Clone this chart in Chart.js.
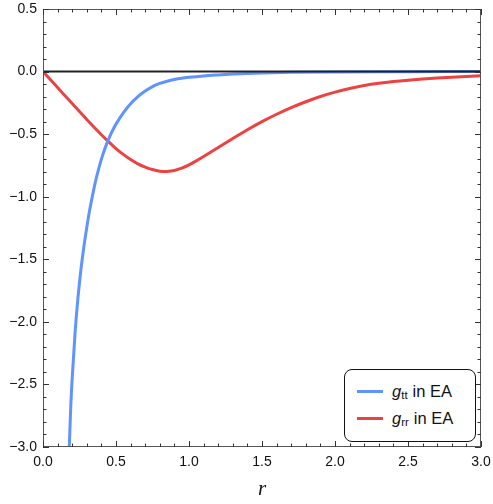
<!DOCTYPE html>
<html>
<head>
<meta charset="utf-8">
<script src="https://cdn.jsdelivr.net/npm/chart.js@4.4.0/dist/chart.umd.min.js"></script>
<style>
  html, body { margin: 0; padding: 0; background: #fff; }
  #wrap { position: relative; width: 493px; height: 504px; }
  #legend {
    position: absolute; left: 344px; top: 369px; width: 130px; height: 71px;
    border: 1.5px solid #111; border-radius: 8px; background: #fff;
    font-family: "Liberation Sans", Arial, sans-serif; font-size: 16.5px; color: #111;
  }
  .row { position: absolute; left: 12px; height: 20px; display: flex; align-items: center; white-space: nowrap; }
  .swatch { width: 26px; height: 3px; margin-right: 9px; }
  .g { font-style: italic; }
  .sub { font-size: 11.5px; position: relative; top: 4px; margin-right: 5px; }
</style>
</head>
<body>
<div id="wrap">
  <canvas id="chart" width="493" height="504"></canvas>
  <div id="legend">
    <div class="row" style="top:11px"><span class="swatch" style="background:#5f93ff"></span><span class="g">g</span><span class="sub">tt</span>in EA</div>
    <div class="row" style="top:38px"><span class="swatch" style="background:#ec4242"></span><span class="g">g</span><span class="sub">rr</span>in EA</div>
  </div>
</div>
<script>
// g_tt in EA
const gttR = [0.17, 0.18, 0.19, 0.20, 0.22, 0.24, 0.26, 0.28, 0.30, 0.32, 0.34, 0.36, 0.38, 0.40, 0.42, 0.44, 0.46, 0.48, 0.50, 0.55, 0.60, 0.65, 0.70, 0.75, 0.80, 0.85, 0.90, 0.95, 1.0, 1.1, 1.2, 1.3, 1.4, 1.5, 1.7, 2.0, 2.5, 3.0];
const gttV = [-3.3, -3.0, -2.68, -2.45, -2.08, -1.80, -1.58, -1.40, -1.245, -1.105, -0.985, -0.875, -0.783, -0.70, -0.629, -0.566, -0.511, -0.463, -0.420, -0.330, -0.257, -0.200, -0.155, -0.120, -0.095, -0.077, -0.063, -0.053, -0.046, -0.035, -0.027, -0.020, -0.015, -0.011, -0.006, -0.003, -0.001, 0.0];

// g_rr in EA
const grrR = [0, 0.1, 0.2, 0.3, 0.4, 0.45, 0.5, 0.55, 0.6, 0.65, 0.7, 0.75, 0.8, 0.83, 0.85, 0.9, 0.95, 1.0, 1.05, 1.1, 1.15, 1.2, 1.3, 1.4, 1.5, 1.6, 1.7, 1.8, 1.9, 2.0, 2.1, 2.2, 2.3, 2.4, 2.5, 2.6, 2.7, 2.8, 2.9, 3.0];
const grrV = [0, -0.128, -0.256, -0.383, -0.505, -0.562, -0.615, -0.662, -0.703, -0.737, -0.763, -0.783, -0.796, -0.799, -0.798, -0.790, -0.772, -0.746, -0.714, -0.679, -0.643, -0.607, -0.535, -0.465, -0.400, -0.341, -0.288, -0.241, -0.199, -0.164, -0.135, -0.112, -0.094, -0.080, -0.069, -0.060, -0.052, -0.045, -0.039, -0.034];

const xTicks = [0, 0.5, 1.0, 1.5, 2.0, 2.5, 3.0];
const yTicks = [0.5, 0.0, -0.5, -1.0, -1.5, -2.0, -2.5, -3.0];

const toPoints = (xs, ys) => xs.map((x, i) => ({ x: x, y: ys[i] }));
const fmt = v => (Math.abs(v) < 1e-9 ? '0.0' : v.toFixed(1).replace('-', '\u2212'));

// frame, inward major/minor ticks on all sides, and the y = 0 axis line
const framePlugin = {
  id: 'frame',
  afterDatasetsDraw(chart) {
    const { ctx, chartArea: a, scales: { x, y } } = chart;
    ctx.save();
    ctx.strokeStyle = '#222';
    ctx.lineWidth = 2;
    const y0 = y.getPixelForValue(0);
    ctx.beginPath(); ctx.moveTo(a.left, y0); ctx.lineTo(a.right, y0); ctx.stroke();

    ctx.strokeStyle = '#555';
    ctx.lineWidth = 1;
    ctx.strokeRect(a.left + 0.5, a.top + 0.5, a.right - a.left - 1, a.bottom - a.top - 1);

    ctx.strokeStyle = '#333';
    ctx.beginPath();
    for (let i = 0; i < xTicks.length; i++) {
      const px = Math.round(x.getPixelForValue(xTicks[i])) + 0.5;
      ctx.moveTo(px, a.bottom); ctx.lineTo(px, a.bottom - 6);
      ctx.moveTo(px, a.top); ctx.lineTo(px, a.top + 6);
      if (i < xTicks.length - 1) {
        for (let k = 1; k < 5; k++) {
          const v = xTicks[i] + (xTicks[i + 1] - xTicks[i]) * k / 5;
          const mx = Math.round(x.getPixelForValue(v)) + 0.5;
          ctx.moveTo(mx, a.bottom); ctx.lineTo(mx, a.bottom - 3.5);
          ctx.moveTo(mx, a.top); ctx.lineTo(mx, a.top + 3.5);
        }
      }
    }
    for (let i = 0; i < yTicks.length; i++) {
      const py = Math.round(y.getPixelForValue(yTicks[i])) + 0.5;
      ctx.moveTo(a.left, py); ctx.lineTo(a.left + 6, py);
      ctx.moveTo(a.right, py); ctx.lineTo(a.right - 6, py);
      if (i < yTicks.length - 1) {
        for (let k = 1; k < 5; k++) {
          const v = yTicks[i] + (yTicks[i + 1] - yTicks[i]) * k / 5;
          const my = Math.round(y.getPixelForValue(v)) + 0.5;
          ctx.moveTo(a.left, my); ctx.lineTo(a.left + 3.5, my);
          ctx.moveTo(a.right, my); ctx.lineTo(a.right - 3.5, my);
        }
      }
    }
    ctx.stroke();
    ctx.restore();
  }
};

const tickFont = { family: '"Liberation Sans", Arial, sans-serif', size: 14 };

// labels may overhang the plot edges, so drop the extra padding Chart.js reserves for them
const noOverhang = s => { s.paddingLeft = 0; s.paddingRight = 0; s.paddingTop = 0; s.paddingBottom = 0; };

new Chart(document.getElementById('chart').getContext('2d'), {
  type: 'line',
  data: {
    datasets: [
      {
        label: 'g_tt in EA',
        data: toPoints(gttR, gttV),
        borderColor: '#5f93ff',
        borderWidth: 3,
        pointRadius: 0,
        cubicInterpolationMode: 'monotone',
        fill: false
      },
      {
        label: 'g_rr in EA',
        data: toPoints(grrR, grrV),
        borderColor: '#ec4242',
        borderWidth: 3,
        pointRadius: 0,
        cubicInterpolationMode: 'monotone',
        fill: false
      }
    ]
  },
  options: {
    responsive: false,
    animation: false,
    layout: { padding: { top: 9, right: 12, left: 0, bottom: 0 } },
    plugins: { legend: { display: false }, tooltip: { enabled: false } },
    scales: {
      x: {
        type: 'linear',
        min: 0, max: 3,
        afterBuildTicks: s => { s.ticks = xTicks.map(v => ({ value: v })); },
        afterFit: s => { s.height = 57; noOverhang(s); },
        grid: { display: false, drawTicks: false },
        border: { display: false },
        ticks: { color: '#111', font: tickFont, padding: 7, maxRotation: 0, callback: v => fmt(v) },
        title: {
          display: true, text: 'r', color: '#111',
          font: { family: '"Liberation Serif", "Times New Roman", serif', style: 'italic', size: 21 },
          padding: { top: 0, bottom: 2 }
        }
      },
      y: {
        type: 'linear',
        min: -3, max: 0.5,
        afterBuildTicks: s => { s.ticks = yTicks.map(v => ({ value: v })); },
        afterFit: s => { s.width = 43; noOverhang(s); },
        grid: { display: false, drawTicks: false },
        border: { display: false },
        ticks: { color: '#111', font: tickFont, padding: 6, callback: v => fmt(v) }
      }
    }
  },
  plugins: [framePlugin]
});
</script>
</body>
</html>
